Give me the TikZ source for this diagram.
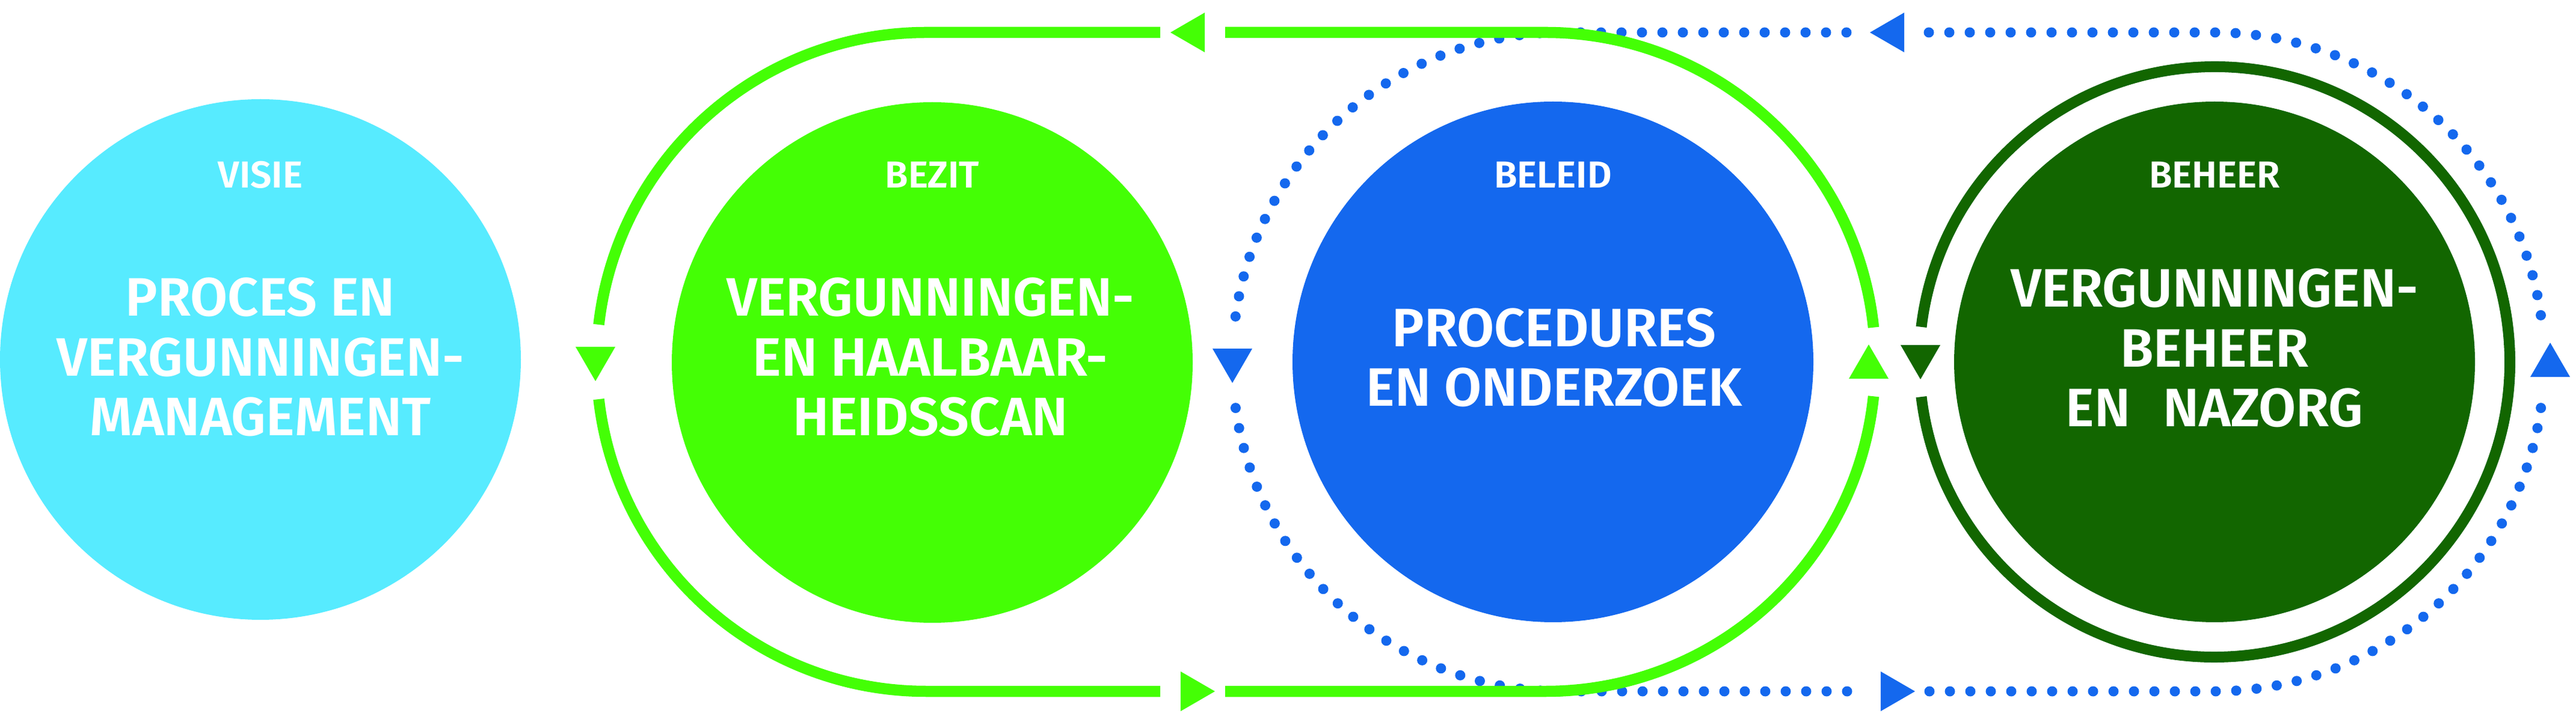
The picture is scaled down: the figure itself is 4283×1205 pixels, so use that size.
\documentclass[tikz,border=0pt]{standalone}
\usepackage{fontspec}
\setmainfont{Fira Sans}[BoldFont={Fira Sans SemiBold}]
\definecolor{visiecol}{HTML}{57EBFF}
\definecolor{bezitcol}{HTML}{44FF05}
\definecolor{beleidcol}{HTML}{1468EE}
\definecolor{beheercol}{HTML}{126600}
\begin{document}
\begin{tikzpicture}[x=0.1mm,y=0.1mm,
  disc/.style={circle,minimum size=86.6mm,inner sep=0pt,draw=none},
  kop/.style={text=white,anchor=base,font=\bfseries\fontsize{17.8}{20}\selectfont},
  tekst/.style={text=white,anchor=base,align=center,font=\bfseries\fontsize{25.6}{28.45}\selectfont},
  lus/.style={line width=1.85mm},
  stip/.style={line width=1.7mm,line cap=round,dash pattern=on 0pt off 3.4mm},
  tri/.pic={\path[pic actions] (0,0) -- (-33,57) -- (33,57) -- cycle;}]
\useasboundingbox (0,0) rectangle (4283,1205);
%% dotted loop
\draw[stip,beleidcol] (3070,1151) -- (2597,1151) arc[start angle=90,end angle=172.9,radius=548];
\draw[stip,beleidcol] (3071,55) -- (2597,55) arc[start angle=270,end angle=187.1,radius=548];
\draw[stip,beleidcol] (3207,1151) -- (3682,1151) arc[start angle=90,end angle=7.1,radius=548];
\draw[stip,beleidcol] (3208,55) -- (3682,55) arc[start angle=-90,end angle=-7.1,radius=548];
%% green loop
\draw[lus,bezitcol] (1929,1151) -- (1540,1151) arc[start angle=90,end angle=173.5,radius=548];
\draw[lus,bezitcol] (1929,55) -- (1540,55) arc[start angle=270,end angle=186.5,radius=548];
\draw[lus,bezitcol] (2037,1151) -- (2570,1151) arc[start angle=90,end angle=6,radius=548];
\draw[lus,bezitcol] (2037,55) -- (2570,55) arc[start angle=-90,end angle=-6,radius=548];
%%
\node (visie) at (433,607) [disc,fill=visiecol] {};
\node (bezit) at (1550,602) [disc,fill=bezitcol] {};
\node (beleid) at (2582,603) [disc,fill=beleidcol] {};
\node (beheer) at (3682,603) [disc,fill=beheercol] {};
\draw [beheercol,line width=1.8mm] (beheer.center) ++(-173.2:491) arc[start angle=-173.2,end angle=173.2,radius=491];
%%
\pic [fill=bezitcol,rotate=-90] at (1946,1151) {tri};
\pic [fill=bezitcol,rotate=90] at (2020,55) {tri};
\pic [fill=bezitcol] at (990,571) {tri};
\pic [fill=bezitcol,rotate=180] at (3107,632) {tri};
\pic [fill=beheercol] at (3193,574) {tri};
\pic [fill=beleidcol] at (2049,568) {tri};
\pic [fill=beleidcol,rotate=180] at (4240,635) {tri};
\pic [fill=beleidcol,rotate=-90] at (3109,1151) {tri};
\pic [fill=beleidcol,rotate=90] at (3184,55) {tri};
%%
\node (visie_kop) at (433,892) [kop] {VISIE};
\node (bezit_kop) at (1550,892) [kop] {BEZIT};
\node (beleid_kop) at (2582,892) [kop] {BELEID};
\node (beheer_kop) at (3682,892) [kop] {BEHEER};
\node (visie_tekst) at (433,480) [tekst] {PROCES EN\\VERGUNNINGEN-\\MANAGEMENT};
\node (bezit_tekst) at (1547,480) [tekst] {VERGUNNINGEN-\\EN HAALBAAR-\\HEIDSSCAN};
\node (beleid_tekst) at (2584,529) [tekst] {PROCEDURES\\EN ONDERZOEK};
\node (beheer_tekst) at (3682,495) [tekst] {VERGUNNINGEN-\\BEHEER\\EN\hspace{0.6em}NAZORG};
%
\end{tikzpicture}
\end{document}
